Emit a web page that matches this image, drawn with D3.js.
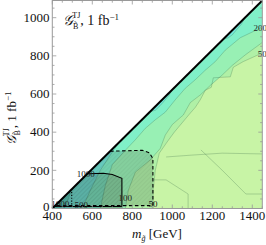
<!DOCTYPE html>
<html><head><meta charset="utf-8">
<script src="https://cdnjs.cloudflare.com/ajax/libs/d3/7.8.5/d3.min.js"></script>
<style>body{margin:0;background:#fff}svg{display:block}</style>
</head><body><svg id="c" width="266" height="245"></svg>
<script>
// ---- data (m_gluino [GeV], G [fb]) ----
const xDomain = [400, 1450];
const yDomain = [0, 1090];
const xTicks = [400, 600, 800, 1000, 1200, 1400];
const yTicks = [0, 200, 400, 600, 800, 1000];
const kinematicEdge = [[400, 0], [1450, 1090]];
const levels = [50, 100, 200, 500, 1000];
const contour50 = [[905,0],[905,100],[915,200],[935,290],[975,350],[1010,400],[1050,450],[1090,500],[1115,530],[1140,570],[1165,620],[1195,635],[1205,685],[1290,690],[1305,740],[1355,770],[1450,815]];
const contour100 = [[765,0],[780,95],[815,190],[890,255],[940,315],[965,385],[1000,440],[1055,490],[1090,555],[1140,595],[1190,645],[1250,700],[1300,750],[1365,805],[1450,870]];
const contour200 = [[640,0],[665,120],[700,230],[765,305],[815,360],[865,420],[915,465],[965,505],[1015,570],[1065,630],[1115,675],[1165,725],[1215,770],[1265,830],[1340,895],[1450,950]];
const contour500 = [[550,0],[590,95],[640,200],[690,280],[730,341]];
const island500a = [[1255,887],[1280,895],[1300,910],[1320,935],[1345,965],[1365,1002]];
const island500b = [[890,508],[915,515],[940,540],[965,570],[985,595],[1000,623]];
const contour1000 = [[460,0],[495,90],[530,140],[565,169]];
const lowLineA = [[904,150],[969,150],[1079,76],[1079,0]];
const lowLineB = [[969,270],[1100,280],[1250,290],[1450,286]];
const lowLineC = [[1143,307],[1250,200],[1368,76],[1450,76]];
const exclSolid = [[575,182],[655,185],[700,178],[748,158],[748,10],[410,10]];
const exclDashed = [[689,300],[850,305],[885,292],[903,262],[903,15],[415,15]];
const exclDotted = [[480,83],[497,83],[497,15]];
const contourLabels = [
  {t:"200", x:1440, y:945}, {t:"50", x:1450, y:810},
  {t:"1000", x:567, y:180}, {t:"1000", x:440, y:22},
  {t:"500", x:545, y:18}, {t:"100", x:765, y:55}, {t:"50", x:903, y:24}
];

// ---- drawing ----
const svg = d3.select("#c");
const L = 52.3, R = 262.3, T = 0.5, B = 208.5;
const x = d3.scaleLinear().domain(xDomain).range([L, R]);
const y = d3.scaleLinear().domain(yDomain).range([B, T]);
const line = d3.line().x(d => x(d[0])).y(d => y(d[1]));
const poly = pts => line(pts) + "Z";
const fillColors = ["#c8f4a6", "#b0f0a6", "#98f0b4", "#80f0c8", "#74eada", "#5cd6c4"];

const defs = svg.append("defs");
defs.append("clipPath").attr("id", "tri").append("path")
  .attr("d", poly([[400, 0], [1450, 0], [1450, 1090]]));
const pat = defs.append("pattern").attr("id", "hatch").attr("patternUnits", "userSpaceOnUse")
  .attr("width", 3).attr("height", 3).attr("patternTransform", "rotate(45)");
pat.append("line").attr("x1", 0).attr("y1", 0).attr("x2", 0).attr("y2", 3)
  .attr("stroke", "rgba(0,0,0,0.10)").attr("stroke-width", 0.8);

const g = svg.append("g").attr("clip-path", "url(#tri)");
g.append("path").attr("d", poly([[400, 0], [1450, 0], [1450, 1090]])).attr("fill", fillColors[0]);
const regions = [
  {pts: [[400, 0], ...contour50, [1450, 1090]], c: fillColors[1]},
  {pts: [[400, 0], ...contour100, [1450, 1090]], c: fillColors[2]},
  {pts: [[400, 0], ...contour200, [1450, 1090]], c: fillColors[3]},
  {pts: [[400, 0], ...contour500], c: fillColors[4]},
  {pts: island500a, c: fillColors[4]},
  {pts: island500b, c: fillColors[4]},
  {pts: [[400, 0], ...contour1000], c: fillColors[5]}
];
regions.forEach(r => g.append("path").attr("d", poly(r.pts)).attr("fill", r.c));
[contour50, contour100, contour200, contour500, island500a, island500b, contour1000, lowLineA, lowLineB, lowLineC].forEach(c =>
  g.append("path").attr("d", line(c)).attr("fill", "none")
    .attr("stroke", "rgba(40,90,60,0.35)").attr("stroke-width", 0.7));

// exclusion overlays
[exclDashed, exclSolid].forEach(p => {
  g.append("path").attr("d", poly(p)).attr("fill", "rgba(30,40,40,0.16)");
  g.append("path").attr("d", poly(p)).attr("fill", "url(#hatch)");
});
g.append("path").attr("d", line(exclSolid)).attr("fill", "none").attr("stroke", "#000").attr("stroke-width", 1.1);
g.append("path").attr("d", line(exclDashed)).attr("fill", "none").attr("stroke", "#000").attr("stroke-width", 1.1).attr("stroke-dasharray", "3.5,2.5");
g.append("path").attr("d", line(exclDotted)).attr("fill", "none").attr("stroke", "#000").attr("stroke-width", 1.1).attr("stroke-dasharray", "1.2,1.6");

// contour labels
const lab = svg.append("g").attr("font-family", "Liberation Serif").attr("font-size", 9).attr("fill", "#222");
contourLabels.forEach(d => lab.append("text").attr("x", x(d.x)).attr("y", y(d.y)).attr("dy", "0.33em")
  .attr("text-anchor", "middle").text(d.t));

// kinematic edge
svg.append("path").attr("d", line(kinematicEdge)).attr("stroke", "#000").attr("stroke-width", 2).attr("fill", "none");

// frame
svg.append("rect").attr("x", L).attr("y", T).attr("width", R - L).attr("height", B - T)
  .attr("fill", "none").attr("stroke", "#999").attr("stroke-width", 1);
const tk = svg.append("g").attr("stroke", "#999").attr("stroke-width", 0.8);
d3.range(400, 1451, 50).forEach(v => {
  const len = v % 200 === 0 ? 4 : 2.2;
  tk.append("line").attr("x1", x(v)).attr("x2", x(v)).attr("y1", B).attr("y2", B - len);
  tk.append("line").attr("x1", x(v)).attr("x2", x(v)).attr("y1", T).attr("y2", T + len);
});
d3.range(0, 1091, 50).forEach(v => {
  const len = v % 200 === 0 ? 4 : 2.2;
  tk.append("line").attr("y1", y(v)).attr("y2", y(v)).attr("x1", L).attr("x2", L + len);
  tk.append("line").attr("y1", y(v)).attr("y2", y(v)).attr("x1", R).attr("x2", R - len);
});
const tl = svg.append("g").attr("font-family", "Liberation Serif").attr("font-size", 13).attr("fill", "#111");
xTicks.forEach(v => tl.append("text").attr("x", x(v)).attr("y", 220).attr("text-anchor", "middle").text(v));
yTicks.forEach(v => tl.append("text").attr("x", 49.5).attr("y", y(v) - (v === 0 ? 1.5 : 0)).attr("dy", "0.33em").attr("text-anchor", "end").text(v));

// axis labels
const xl = svg.append("text").attr("x", 157).attr("y", 238).attr("text-anchor", "middle")
  .attr("font-family", "Liberation Serif").attr("font-size", 13).attr("fill", "#111");
xl.append("tspan").attr("font-style", "italic").text("m");
xl.append("tspan").attr("font-size", 8).attr("dy", 3).attr("font-style", "italic").text("g̃");
xl.append("tspan").attr("dy", -3).text(" [GeV]");

function gLabel(sel) {
  sel.append("tspan").attr("font-family", "DejaVu Serif").attr("font-style", "italic").text("𝒢");
  sel.append("tspan").attr("font-size", 8).attr("dy", 4).text("B̃");
  sel.append("tspan").attr("font-size", 8).attr("dx", -6).attr("dy", -11).text("TJ");
  sel.append("tspan").attr("dy", 7).text(", 1 fb");
  sel.append("tspan").attr("font-size", 9).attr("dy", -5).text("−1");
}
const title = svg.append("text").attr("x", 63).attr("y", 25)
  .attr("font-family", "Liberation Serif").attr("font-size", 14).attr("fill", "#111");
gLabel(title);
const yl = svg.append("text").attr("transform", "translate(16,118) rotate(-90)").attr("text-anchor", "middle")
  .attr("font-family", "Liberation Serif").attr("font-size", 13).attr("fill", "#111");
gLabel(yl);
</script></body></html>
